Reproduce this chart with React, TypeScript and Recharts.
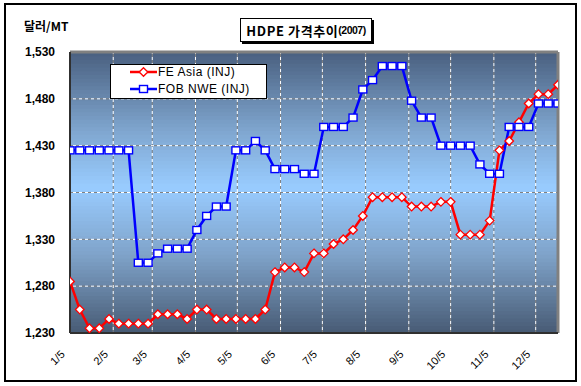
import React from 'react';
import { LineChart, Line, XAxis, YAxis, ReferenceLine, ReferenceArea } from 'recharts';

const dates = [
  '1/5', '1/12', '1/19', '1/26', '2/2', '2/9', '2/16', '2/23', '3/2', '3/9',
  '3/16', '3/23', '3/30', '4/6', '4/13', '4/20', '4/27', '5/4', '5/11', '5/18',
  '5/25', '6/1', '6/8', '6/15', '6/22', '6/29', '7/6', '7/13', '7/20', '7/27',
  '8/3', '8/10', '8/17', '8/24', '8/31', '9/7', '9/14', '9/21', '9/28', '10/5',
  '10/12', '10/19', '10/26', '11/2', '11/9', '11/16', '11/23', '11/30', '12/7', '12/14',
  '12/21',
];

const feAsia = [
  1285, 1255, 1235, 1235, 1245, 1240, 1240, 1240, 1240, 1250,
  1250, 1250, 1245, 1255, 1255, 1245, 1245, 1245, 1245, 1245,
  1255, 1295, 1300, 1300, 1295, 1315, 1315, 1325, 1330, 1340,
  1355, 1375, 1375, 1375, 1375, 1365, 1365, 1365, 1370, 1370,
  1335, 1335, 1335, 1350, 1425, 1435, 1455, 1475, 1485, 1485,
  1495,
];

const fobNwe = [
  1425, 1425, 1425, 1425, 1425, 1425, 1425, 1305, 1305, 1315,
  1320, 1320, 1320, 1340, 1355, 1365, 1365, 1425, 1425, 1435,
  1425, 1405, 1405, 1405, 1400, 1400, 1450, 1450, 1450, 1460,
  1490, 1500, 1515, 1515, 1515, 1478, 1460, 1460, 1430, 1430,
  1430, 1430, 1410, 1400, 1400, 1450, 1450, 1450, 1475, 1475,
  1475,
];

const monthTicks = ['1/5', '2/5', '3/5', '4/5', '5/5', '6/5', '7/5', '8/5', '9/5', '10/5', '11/5', '12/5'];
const yTicks = [1230, 1280, 1330, 1380, 1430, 1480, 1530];

const seriesNames = ['FE Asia (INJ)', 'FOB NWE (INJ)'];
const yUnit = '달러/MT';
const titleMain = 'HDPE 가격추이';
const titleYear = '(2007)';

const dayOfYear = (s: string) => {
  const [m, d] = s.split('/').map(Number);
  return Math.round((Date.UTC(2007, m - 1, d) - Date.UTC(2007, 0, 0)) / 86400000);
};
const labelOfDay: Record<number, string> = {};
monthTicks.forEach((t) => { labelOfDay[dayOfYear(t)] = t; });

const data = dates.map((d, i) => ({ day: dayOfYear(d), label: d, fe: feAsia[i], fob: fobNwe[i] }));
const xTickValues = monthTicks.map(dayOfYear);
const xMin = dayOfYear(dates[0]);
const xMax = dayOfYear(dates[dates.length - 1]);
const yMin = yTicks[0];
const yMax = yTicks[yTicks.length - 1];

// background gradient stops (fraction from top, rgb)
const gradStops: [number, number[]][] = [
  [0, [74, 96, 128]],
  [0.28, [127, 166, 207]],
  [0.48, [153, 204, 255]],
  [0.72, [127, 163, 201]],
  [1, [71, 90, 116]],
];
const gradColor = (f: number) => {
  for (let i = 0; i < gradStops.length - 1; i++) {
    const [a, ca] = gradStops[i];
    const [b, cb] = gradStops[i + 1];
    if (f >= a && f <= b) {
      const t = (f - a) / (b - a);
      const c = ca.map((v, k) => Math.round(v + (cb[k] - v) * t));
      return `rgb(${c[0]},${c[1]},${c[2]})`;
    }
  }
  return 'rgb(71,90,116)';
};
const BAND = 4;
const bandValues: number[] = [];
for (let v = yMin + BAND / 2; v < yMax; v += BAND) bandValues.push(v);

const SANS = '"Liberation Sans", Arial, "Noto Sans CJK KR", sans-serif';
const KR = '"Noto Sans CJK KR", "Liberation Sans", sans-serif';

const Diamond = (p: any) => {
  const { cx, cy } = p;
  if (cx == null || cy == null) return null;
  const r = 4.3;
  return (
    <path
      d={`M${cx},${cy - r}L${cx + r},${cy}L${cx},${cy + r}L${cx - r},${cy}Z`}
      fill="#ffffff"
      stroke="#ff0000"
      strokeWidth={1.3}
    />
  );
};

const Square = (p: any) => {
  const { cx, cy } = p;
  if (cx == null || cy == null) return null;
  return <rect x={cx - 4} y={cy - 3.5} width={8} height={7} fill="#ffffff" stroke="#0000ff" strokeWidth={1.4} />;
};

const PlotBackground = (p: any) => {
  const { x, y, width, height } = p;
  if (x == null || y == null) return null;
  return (
    <g>
      <defs>
        <linearGradient id="plotAreaGrad" x1="0" y1="0" x2="0" y2="1">
          {gradStops.map(([o, c]) => (
            <stop key={o} offset={`${o * 100}%`} stopColor={`rgb(${c[0]},${c[1]},${c[2]})`} />
          ))}
        </linearGradient>
      </defs>
      <rect x={x} y={y} width={width} height={height} fill="url(#plotAreaGrad)" />
    </g>
  );
};

const YTick = (p: any) => {
  const { x, y, payload } = p;
  return (
    <text x={x} y={y} dy="0.36em" textAnchor="end" fontSize={12} fontWeight="bold" fontFamily={SANS} fill="#000">
      {Number(payload.value).toLocaleString('en-US')}
    </text>
  );
};

const XTick = (p: any) => {
  const { x, y, payload } = p;
  const ax = x - 4.5;
  const ay = y + 22;
  return (
    <text x={ax} y={ay} textAnchor="end" fontSize={11} fontFamily={SANS} fill="#000" transform={`rotate(-45 ${ax} ${ay})`}>
      {labelOfDay[payload.value] ?? ''}
    </text>
  );
};

const LegendBox = () => (
  <div
    style={{
      position: 'absolute', left: 110, top: 64,
      width: 157, height: 35,
      boxSizing: 'border-box',
      border: '1px solid #000',
      background: '#fff',
      fontFamily: SANS,
      fontSize: 12,
      letterSpacing: 0.5,
    }}
  >
    <svg width={157} height={35} style={{ position: 'absolute', left: -1, top: -1 }}>
      <line x1={20} x2={47} y1={8} y2={8} stroke="#ff0000" strokeWidth={2.5} />
      <Diamond cx={33.5} cy={8} />
      <line x1={20} x2={47} y1={25} y2={25} stroke="#0000ff" strokeWidth={2.5} />
      <Square cx={33.5} cy={25} />
    </svg>
    <div style={{ position: 'absolute', left: 47, top: 0, lineHeight: '15px' }}>{seriesNames[0]}</div>
    <div style={{ position: 'absolute', left: 47, top: 17, lineHeight: '15px' }}>{seriesNames[1]}</div>
  </div>
);

export default function App() {
  return (
    <div style={{ position: 'absolute', left: 0, top: 0, width: 581, height: 386, background: '#fff' }}>
      <svg width={581} height={386} style={{ position: 'absolute', left: 0, top: 0 }}>
        <rect x={5} y={4} width={571} height={377} fill="none" stroke="#000" strokeWidth={2} />
      </svg>
      <div
        style={{
          position: 'absolute', left: 24, top: 18, fontFamily: KR, fontWeight: 'bold', fontSize: 12,
          lineHeight: '16px', color: '#000',
        }}
      >
        {yUnit}
      </div>
      <div
        style={{
          position: 'absolute', left: 240, top: 18, width: 132, height: 24, boxSizing: 'border-box',
          border: '1px solid #000', boxShadow: '2px 2px 0 #000', background: '#fff',
          display: 'flex', alignItems: 'center', justifyContent: 'center', whiteSpace: 'nowrap',
        }}
      >
        <span style={{ fontFamily: KR, fontWeight: 'bold', fontSize: 13, letterSpacing: 0.6 }}>{titleMain}</span>
        <span style={{ fontFamily: SANS, fontWeight: 'bold', fontSize: 10.5, letterSpacing: -0.5 }}>{titleYear}</span>
      </div>
      <div style={{ position: 'absolute', left: 0, top: 0 }}>
        <LineChart width={581} height={386} data={data} margin={{ top: 52, right: 23, bottom: 0, left: 10 }}>
          <ReferenceArea
            x1={xMin}
            x2={xMax}
            y1={yMin}
            y2={yMax}
            ifOverflow="visible"
            shape={<PlotBackground />}
          />
          {bandValues.map((v) => (
            <ReferenceLine
              key={`b${v}`}
              y={v}
              ifOverflow="visible"
              stroke={gradColor((yMax - v) / (yMax - yMin))}
              strokeWidth={4.6}
            />
          ))}
          {yTicks.map((t) => (
            <ReferenceLine key={`hg${t}`} y={t} stroke="#808080" strokeWidth={1} strokeDasharray="3 3" />
          ))}
          {xTickValues.map((t) => (
            <ReferenceLine key={`vg${t}`} x={t} stroke="#808080" strokeWidth={1} strokeDasharray="3 3" />
          ))}
          {yTicks.map((t) => (
            <ReferenceLine key={`hw${t}`} y={t} stroke="#ffffff" strokeWidth={1} strokeDasharray="3 3" strokeDashoffset={3} />
          ))}
          {xTickValues.map((t) => (
            <ReferenceLine key={`vw${t}`} x={t} stroke="#ffffff" strokeWidth={1} strokeDasharray="3 3" strokeDashoffset={3} />
          ))}
          <ReferenceLine y={yMax} ifOverflow="visible" stroke="#808080" strokeWidth={3} />
          <ReferenceLine x={xMax} ifOverflow="visible" stroke="#808080" strokeWidth={3} />
          <XAxis
            dataKey="day"
            type="number"
            domain={[xMin, xMax]}
            ticks={xTickValues}
            interval={0}
            tick={<XTick />}
            tickLine={false}
            tickSize={0}
            tickMargin={0}
            axisLine={{ stroke: '#303030', strokeWidth: 2 }}
            height={53}
            allowDataOverflow
          />
          <YAxis
            domain={[yMin, yMax]}
            ticks={yTicks}
            interval={0}
            tick={<YTick />}
            tickLine={false}
            tickSize={0}
            tickMargin={15}
            axisLine={{ stroke: '#303030', strokeWidth: 2 }}
            width={60}
            allowDataOverflow
          />
          <Line
            type="linear"
            dataKey="fe"
            name={seriesNames[0]}
            stroke="#ff0000"
            strokeWidth={2.5}
            dot={<Diamond />}
            activeDot={false}
            isAnimationActive={false}
          />
          <Line
            type="linear"
            dataKey="fob"
            name={seriesNames[1]}
            stroke="#0000ff"
            strokeWidth={2.5}
            dot={<Square />}
            activeDot={false}
            isAnimationActive={false}
          />
        </LineChart>
      </div>
      <LegendBox />
    </div>
  );
}
